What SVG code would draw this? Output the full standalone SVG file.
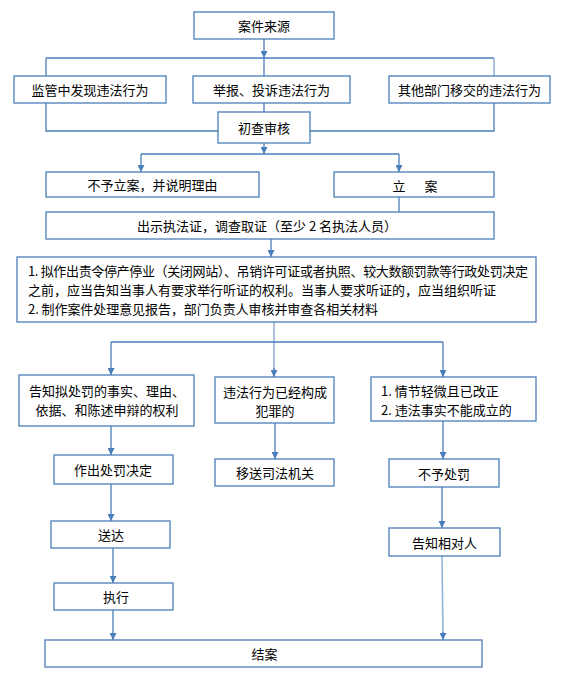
<svg xmlns="http://www.w3.org/2000/svg" width="577" height="690" viewBox="0 0 577 690">
<defs>
<marker id="ah" markerUnits="userSpaceOnUse" markerWidth="8" markerHeight="7" refX="7" refY="3.5" orient="auto">
<path d="M0,0 L7,3.5 L0,7 Z" fill="#4A7EBB"/>
</marker>
<style>
.box{fill:#fff;stroke:#4A7EBB;stroke-width:1.3}
.ln{fill:none;stroke:#4A7EBB;stroke-width:1.3}
.lt{fill:none;stroke:#95B3D7;stroke-width:1.6}
.ar{marker-end:url(#ah)}
text{font-family:"Noto Sans CJK SC","Liberation Sans",sans-serif;font-size:13px;fill:#000;dominant-baseline:central}
.c{text-anchor:middle}
</style>
</defs>
<rect width="577" height="690" fill="#fff"/>
<g id="connectors">
<path class="ln ar" d="M264 39 V58"/>
<path class="ln" d="M46 58 H494"/>
<path class="ln" d="M46 58 V76 M264 58 V76"/>
<path class="lt" d="M494 58 V76"/>
<path class="ln" d="M46 103 V131 H218 M494 103 V131 H310 M264 103 V112"/>
<path class="ln ar" d="M264 143 V154"/>
<path class="ln" d="M141 154 H399"/>
<path class="ln ar" d="M141 154 V172"/>
<path class="ln ar" d="M399 154 V172"/>
<path class="ln" d="M399 197 V212"/>
<path class="ln ar" d="M271 239 V257"/>
<path class="lt" d="M274 322 V371"/>
<path class="ln ar" d="M274 368 V377"/>
<path class="ln" d="M111 342 H443"/>
<path class="ln ar" d="M111 342 V375"/>
<path class="ln ar" d="M443 342 V377"/>
<path class="ln ar" d="M111 426 V455"/>
<path class="ln ar" d="M275 423 V459"/>
<path class="ln ar" d="M443 421 V459"/>
<path class="ln ar" d="M111 484 V521"/>
<path class="ln ar" d="M113 548 V583"/>
<path class="ln ar" d="M113 610 V640"/>
<path class="ln ar" d="M442 487 V528"/>
<path class="lt" d="M442 556 L443 634"/>
<path class="ln ar" d="M443 632 V640"/>
</g>
<g id="n-source"><rect class="box" x="194" y="12" width="140" height="27"/><text class="c" x="264" y="25.5">案件来源</text></g>
<g id="n-supervise"><rect class="box" x="14" y="76" width="152" height="27"/><text class="c" x="90" y="89.5">监管中发现违法行为</text></g>
<g id="n-report"><rect class="box" x="193" y="76" width="157" height="27"/><text class="c" x="271.5" y="89.5">举报、投诉违法行为</text></g>
<g id="n-transfer"><rect class="box" x="389" y="76" width="161" height="27"/><text class="c" x="469.5" y="89.5">其他部门移交的违法行为</text></g>
<g id="n-review"><rect class="box" x="218" y="112" width="92" height="31"/><text class="c" x="264" y="127.5">初查审核</text></g>
<g id="n-reject"><rect class="box" x="46" y="172" width="213" height="25"/><text class="c" x="152.5" y="184.5">不予立案，并说明理由</text></g>
<g id="n-file"><rect class="box" x="334" y="172" width="160" height="25"/><text class="c" y="184.5"><tspan x="399">立</tspan><tspan x="431">案</tspan></text></g>
<g id="n-investigate"><rect class="box" x="46" y="212" width="448" height="27"/><text class="c" x="267" y="225.5">出示执法证，调查取证（至少 2 名执法人员）</text></g>
<g id="n-hearing"><rect class="box" x="17" y="257" width="519" height="65"/>
<text x="28" y="270.5" textLength="500" lengthAdjust="spacing">1. 拟作出责令停产停业（关闭网站）、吊销许可证或者执照、较大数额罚款等行政处罚决定</text>
<text x="28" y="289.5">之前，应当告知当事人有要求举行听证的权利。当事人要求听证的，应当组织听证</text>
<text x="28" y="308.5" textLength="350" lengthAdjust="spacing">2. 制作案件处理意见报告，部门负责人审核并审查各相关材料</text></g>
<g id="n-notify"><rect class="box" x="19" y="375" width="175" height="51"/><text class="c" x="107" y="390">告知拟处罚的事实、理由、</text><text class="c" x="107" y="409">依据、和陈述申辩的权利</text></g>
<g id="n-crime"><rect class="box" x="215" y="377" width="119" height="46"/><text class="c" x="275" y="391.5">违法行为已经构成</text><text class="c" x="275" y="410.5">犯罪的</text></g>
<g id="n-minor"><rect class="box" x="371" y="377" width="165" height="44"/><text x="381" y="390.5">1. 情节轻微且已改正</text><text x="381" y="409.5">2. 违法事实不能成立的</text></g>
<g id="n-decide"><rect class="box" x="54" y="455" width="119" height="29"/><text class="c" x="113" y="469.5">作出处罚决定</text></g>
<g id="n-judicial"><rect class="box" x="215" y="459" width="119" height="27"/><text class="c" x="275" y="472.5">移送司法机关</text></g>
<g id="n-nopenalty"><rect class="box" x="389" y="459" width="110" height="28"/><text class="c" x="444" y="473">不予处罚</text></g>
<g id="n-deliver"><rect class="box" x="51" y="521" width="119" height="27"/><text class="c" x="111" y="534.5">送达</text></g>
<g id="n-inform"><rect class="box" x="389" y="528" width="111" height="28"/><text class="c" x="444.5" y="542">告知相对人</text></g>
<g id="n-execute"><rect class="box" x="54" y="583" width="119" height="27"/><text class="c" x="116" y="596.5">执行</text></g>
<g id="n-close"><rect class="box" x="45" y="640" width="437" height="27"/><text class="c" x="264.5" y="653.5">结案</text></g>
</svg>
